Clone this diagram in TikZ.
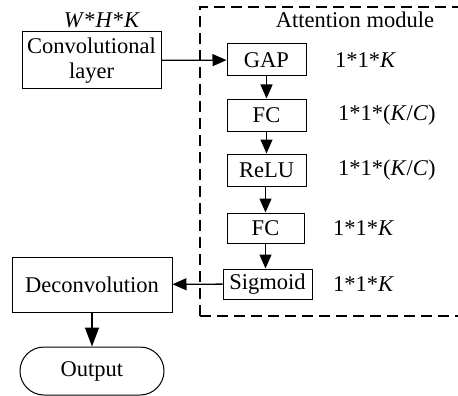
\documentclass[tikz,border=0pt]{standalone}
\usepackage{fontspec}
\setmainfont{Liberation Serif}
\usetikzlibrary{arrows.meta}
\begin{document}
\begin{tikzpicture}[x=1pt,y=-1pt,
  font=\fontsize{22.5}{25}\selectfont,
  box/.style={draw,line width=1pt,inner sep=0pt,align=center},
  arr/.style={line width=1.3pt,-{Triangle[length=14pt,width=12pt]}},
  lbl/.style={anchor=west,inner sep=0pt}]
\useasboundingbox (0,0) rectangle (458,396);
\begin{scope}
\clip (0,0) rectangle (458,396);
\draw[line width=1.2pt,dash pattern=on 11pt off 6pt] (200,316) -- (200,7) -- (470,7);
\draw[line width=1.2pt,dash pattern=on 11pt off 6pt] (200,316) -- (470,316);
\end{scope}
\node[box,minimum width=139pt,minimum height=57pt] (conv) at (91.5,60.5) {Convolutional\\layer};
\node[inner sep=0pt] (whk) at (102,20) {\textit{W}*\textit{H}*\textit{K}};
\node[inner sep=0pt] (att) at (355,20) {Attention module};
\node[box,minimum width=79pt,minimum height=32pt] (gap) at (266.5,60) {GAP};
\node[box,minimum width=79pt,minimum height=32pt] (fc1) at (266.5,115) {FC};
\node[box,minimum width=79pt,minimum height=32pt] (relu) at (266.5,170) {ReLU};
\node[box,minimum width=77pt,minimum height=30pt] (fc2) at (265.5,228) {FC};
\node[box,minimum width=89pt,minimum height=30pt] (sig) at (267.5,284) {Sigmoid};
\node[box,minimum width=160pt,minimum height=55pt] (deconv) at (92,284.5) {Deconvolution};
\node[box,minimum width=144pt,minimum height=48pt,rounded corners=24pt] (out) at (92,371) {Output};
\node[lbl] (l1) at (335,60) {1*1*\textit{K}};
\node[lbl] (l2) at (338,115) {1*1*(\textit{K}/\textit{C})};
\node[lbl] (l3) at (338,170) {1*1*(\textit{K}/\textit{C})};
\node[lbl] (l4) at (333,228) {1*1*\textit{K}};
\node[lbl] (l5) at (333,284) {1*1*\textit{K}};
\draw[arr] (conv) -- (gap);
\draw[arr] (gap) -- (fc1);
\draw[arr] (fc1) -- (relu);
\draw[arr] ([xshift=-1pt]relu.south) -- ([xshift=0pt]fc2.north);
\draw[arr] (fc2) -- (fc2|-sig.north);
\draw[arr] (sig) -- (deconv);
\draw[line width=1.3pt,-{Triangle[length=19pt,width=14pt]}] (deconv) -- (out);
\end{tikzpicture}
\end{document}
